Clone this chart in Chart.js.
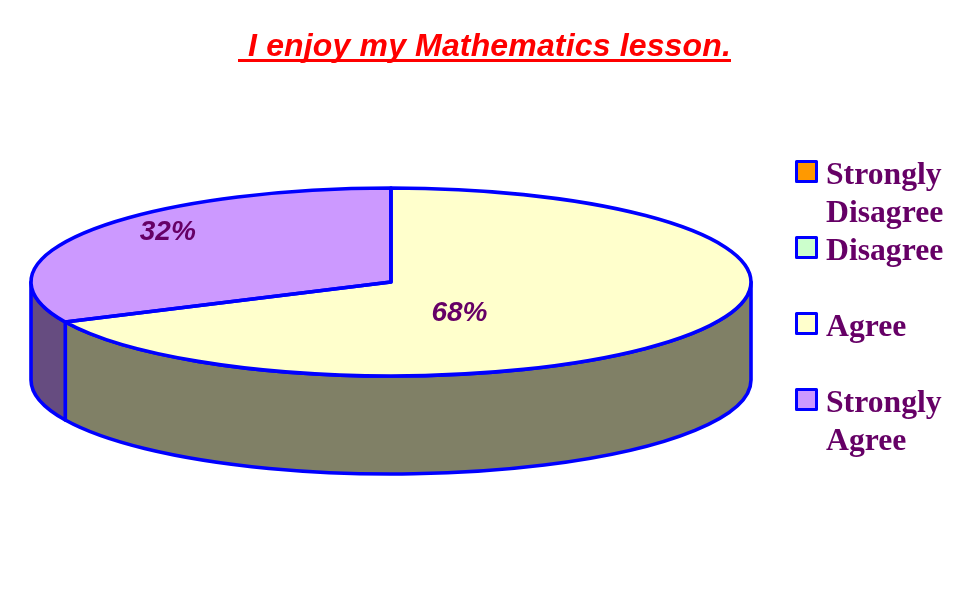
<!DOCTYPE html>
<html>
<head>
<meta charset="utf-8">
<style>html,body{margin:0;padding:0;background:#fff}canvas{display:block}</style>
<script src="https://cdn.jsdelivr.net/npm/chart.js@4"></script>
</head>
<body>
<canvas id="c" width="977" height="600"></canvas>
<script>
const titleText = ' I enjoy my Mathematics lesson.';
const categories = ['Strongly Disagree', 'Disagree', 'Agree', 'Strongly Agree'];
const legendLines = [['Strongly', 'Disagree'], ['Disagree'], ['Agree'], ['Strongly', 'Agree']];
const values = [0, 0, 68, 32];
const sliceColors = ['#FF9900', '#CCFFCC', '#FFFFCC', '#CC99FF'];
const wallColors = ['#804C00', '#668066', '#808066', '#664C80'];

const BLUE = '#0000FF', INK = '#660066';
const RX = 360, RY = 94, DEPTH = 98, R = 200, EDGE = 3.6;
const labelOffsets = {2: [0.19, 0.33], 3: [-0.62, -0.53]};

function slicePath(ctx, cx, cy, a0, a1) {
  ctx.beginPath();
  ctx.moveTo(cx, cy);
  ctx.ellipse(cx, cy, RX, RY, 0, a0, a1);
  ctx.closePath();
}

const pie3d = {
  id: 'pie3d',
  beforeDatasetsDraw(chart) {
    const ctx = chart.ctx;
    const arcs = chart.getDatasetMeta(0).data;
    const cx = arcs[0].x, cy = arcs[0].y;
    ctx.lineWidth = EDGE;
    ctx.strokeStyle = BLUE;
    ctx.lineJoin = 'round';
    arcs.forEach((arc, i) => {
      if (!values[i]) return;
      const a0 = Math.max(arc.startAngle, 0);
      const a1 = Math.min(arc.endAngle, Math.PI);
      if (a1 <= a0) return;
      ctx.beginPath();
      ctx.ellipse(cx, cy, RX, RY, 0, a0, a1);
      ctx.ellipse(cx, cy + DEPTH, RX, RY, 0, a1, a0, true);
      ctx.closePath();
      ctx.fillStyle = wallColors[i];
      ctx.fill();
      ctx.stroke();
    });
    ctx.save();
    ctx.translate(cx, cy);
    ctx.scale(RX / R, RY / R);
    ctx.translate(-cx, -cy);
  },
  afterDatasetsDraw(chart) {
    const ctx = chart.ctx;
    ctx.restore();
    const arcs = chart.getDatasetMeta(0).data;
    const cx = arcs[0].x, cy = arcs[0].y;
    ctx.lineWidth = EDGE;
    ctx.strokeStyle = BLUE;
    ctx.lineJoin = 'round';
    arcs.forEach((arc, i) => {
      if (!values[i]) return;
      slicePath(ctx, cx, cy, arc.startAngle, arc.endAngle);
      ctx.stroke();
    });
    ctx.fillStyle = INK;
    ctx.font = 'italic bold 28px "Liberation Sans"';
    ctx.textAlign = 'center';
    ctx.textBaseline = 'middle';
    const total = values.reduce((a, b) => a + b, 0);
    arcs.forEach((arc, i) => {
      if (!values[i]) return;
      const o = labelOffsets[i];
      ctx.fillText(Math.round(values[i] / total * 100) + '%', cx + o[0] * RX, cy + o[1] * RY);
    });
  },
  afterDraw(chart) {
    const ctx = chart.ctx;
    ctx.textBaseline = 'alphabetic';
    ctx.textAlign = 'left';
    ctx.font = 'italic bold 32px "Liberation Sans"';
    ctx.letterSpacing = '0.15px';
    ctx.fillStyle = '#FF0000';
    const w = ctx.measureText(titleText).width;
    ctx.fillText(titleText, 485 - w / 2, 56);
    ctx.letterSpacing = '0px';
    ctx.fillRect(238, 59, 493, 3);
    let rowTop = 160;
    legendLines.forEach((lines, i) => {
      ctx.fillStyle = sliceColors[i];
      ctx.fillRect(796.5, rowTop + 1.5, 20, 20);
      ctx.strokeStyle = BLUE;
      ctx.lineWidth = 3;
      ctx.strokeRect(796.5, rowTop + 1.5, 20, 20);
      ctx.fillStyle = INK;
      ctx.font = 'bold 31.7px "Liberation Serif"';
      lines.forEach((t, k) => ctx.fillText(t, 826, rowTop + 24 + k * 37.5));
      rowTop += 76;
    });
  }
};

new Chart(document.getElementById('c'), {
  type: 'pie',
  data: {
    labels: categories,
    datasets: [{ data: values, backgroundColor: sliceColors, borderWidth: 0 }]
  },
  options: {
    responsive: false,
    animation: false,
    layout: { padding: { left: 191, right: 386, top: 82, bottom: 118 } },
    plugins: { legend: { display: false }, title: { display: false }, tooltip: { enabled: false } }
  },
  plugins: [pie3d]
});
</script>
</body>
</html>
